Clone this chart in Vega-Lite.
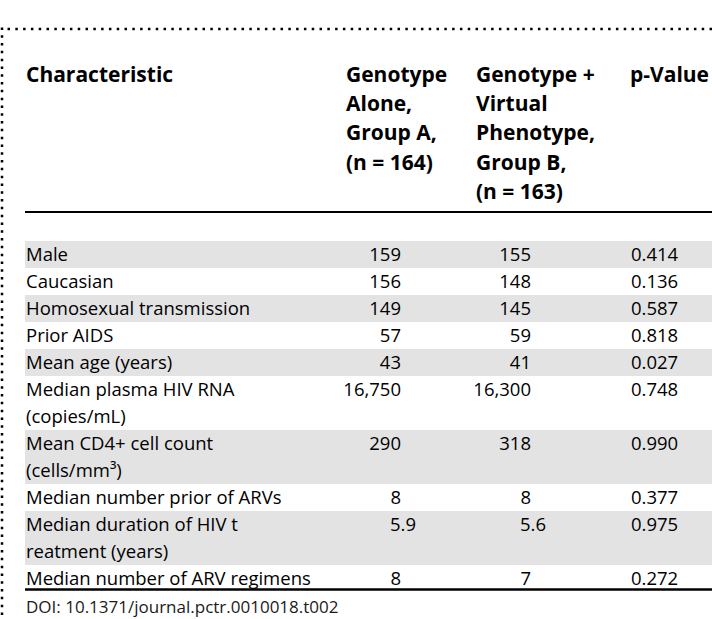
{
  "$schema": "https://vega.github.io/schema/vega-lite/v6.json",
  "width": 712,
  "height": 619,
  "autosize": {"type": "none"},
  "padding": 0,
  "background": "white",
  "config": {
    "view": {"stroke": null},
    "text": {"font": "Open Sans", "fontSize": 18.5, "color": "#000"}
  },
  "datasets": {
    "table": [
      {"Characteristic": ["Male"], "GroupA": 159, "GroupB": 155, "pValue": 0.414},
      {"Characteristic": ["Caucasian"], "GroupA": 156, "GroupB": 148, "pValue": 0.136},
      {"Characteristic": ["Homosexual transmission"], "GroupA": 149, "GroupB": 145, "pValue": 0.587},
      {"Characteristic": ["Prior AIDS"], "GroupA": 57, "GroupB": 59, "pValue": 0.818},
      {"Characteristic": ["Mean age (years)"], "GroupA": 43, "GroupB": 41, "pValue": 0.027},
      {"Characteristic": ["Median plasma HIV RNA", "(copies/mL)"], "GroupA": 16750, "GroupB": 16300, "pValue": 0.748},
      {"Characteristic": ["Mean CD4+ cell count", "(cells/mm³)"], "GroupA": 290, "GroupB": 318, "pValue": 0.990},
      {"Characteristic": ["Median number prior of ARVs"], "GroupA": 8, "GroupB": 8, "pValue": 0.377},
      {"Characteristic": ["Median duration of HIV t", "reatment (years)"], "GroupA": 5.9, "GroupB": 5.6, "pValue": 0.975},
      {"Characteristic": ["Median number of ARV regimens"], "GroupA": 8, "GroupB": 7, "pValue": 0.272}
    ]
  },
  "layer": [
    {
      "data": {"name": "table"},
      "transform": [
        {"window": [{"op": "row_number", "as": "rec"}]},
        {"flatten": ["Characteristic"]},
        {"window": [{"op": "row_number", "as": "line"}]},
        {"filter": "datum.rec % 2 == 1"}
      ],
      "mark": {"type": "rule", "color": "#e3e3e3", "strokeWidth": 27, "strokeCap": "butt"},
      "encoding": {
        "x": {"datum": 1, "type": "quantitative", "scale": {"domain": [0, 1, 1.5, 2, 2.5, 3, 4, 5], "range": [2, 25, 346, 401, 476, 531, 631, 712], "nice": false, "zero": false}, "axis": null},
        "x2": {"datum": 5},
        "y": {"field": "line", "type": "quantitative", "scale": {"domain": [-8, 15], "range": [11.5, 632.5], "nice": false, "zero": false}, "axis": null}
      }
    },
    {
      "data": {"values": [{}]},
      "mark": {"type": "rule", "color": "#000", "strokeWidth": 2.5, "strokeDash": [2.5, 5.3], "strokeCap": "butt"},
      "encoding": {
        "x": {"datum": 0.24, "type": "quantitative"},
        "x2": {"datum": 5},
        "y": {"datum": -7.352, "type": "quantitative"}
      }
    },
    {
      "data": {"values": [{}]},
      "mark": {"type": "rule", "color": "#000", "strokeWidth": 2.5, "strokeDash": [2.5, 5.3], "strokeCap": "butt"},
      "encoding": {
        "x": {"datum": 0, "type": "quantitative"},
        "y": {"datum": -7.41, "type": "quantitative"},
        "y2": {"datum": 15}
      }
    },
    {
      "data": {"values": [{}]},
      "mark": {"type": "rule", "color": "#000", "strokeWidth": 2},
      "encoding": {
        "x": {"datum": 1, "type": "quantitative"},
        "x2": {"datum": 5},
        "y": {"datum": -0.574, "type": "quantitative"}
      }
    },
    {
      "data": {"values": [{}]},
      "mark": {"type": "rule", "color": "#000", "strokeWidth": 2.5},
      "encoding": {
        "x": {"datum": 1, "type": "quantitative"},
        "x2": {"datum": 5},
        "y": {"datum": 13.407, "type": "quantitative"}
      }
    },
    {
      "data": {"values": [{}]},
      "mark": {"type": "text", "align": "left", "baseline": "alphabetic", "fontWeight": "bold", "fontSize": 21, "lineHeight": 29.2, "dx": 1},
      "encoding": {
        "x": {"datum": 1, "type": "quantitative"},
        "y": {"datum": -5.389, "type": "quantitative"},
        "text": {"value": "Characteristic"}
      }
    },
    {
      "data": {"values": [{}]},
      "mark": {"type": "text", "align": "left", "baseline": "alphabetic", "fontWeight": "bold", "fontSize": 21, "lineHeight": 29.2},
      "encoding": {
        "x": {"datum": 1.5, "type": "quantitative"},
        "y": {"datum": -5.389, "type": "quantitative"},
        "text": {"value": ["Genotype", "Alone,", "Group A,", "(n = 164)"]}
      }
    },
    {
      "data": {"values": [{}]},
      "mark": {"type": "text", "align": "left", "baseline": "alphabetic", "fontWeight": "bold", "fontSize": 21, "lineHeight": 29.2},
      "encoding": {
        "x": {"datum": 2.5, "type": "quantitative"},
        "y": {"datum": -5.389, "type": "quantitative"},
        "text": {"value": ["Genotype +", "Virtual", "Phenotype,", "Group B,", "(n = 163)"]}
      }
    },
    {
      "data": {"values": [{}]},
      "mark": {"type": "text", "align": "left", "baseline": "alphabetic", "fontWeight": "bold", "fontSize": 21, "dx": -1},
      "encoding": {
        "x": {"datum": 4, "type": "quantitative"},
        "y": {"datum": -5.389, "type": "quantitative"},
        "text": {"value": "p-Value"}
      }
    },
    {
      "data": {"name": "table"},
      "transform": [
        {"window": [{"op": "row_number", "as": "rec"}]},
        {"flatten": ["Characteristic"]},
        {"window": [{"op": "row_number", "as": "line"}]}
      ],
      "mark": {"type": "text", "align": "left", "baseline": "middle", "dx": 1},
      "encoding": {
        "x": {"datum": 1, "type": "quantitative"},
        "y": {"field": "line", "type": "quantitative"},
        "text": {"field": "Characteristic", "type": "nominal"}
      }
    },
    {
      "data": {"name": "table"},
      "transform": [
        {"window": [{"op": "row_number", "as": "rec"}]},
        {"flatten": ["Characteristic"]},
        {"window": [{"op": "row_number", "as": "line"}]},
        {"window": [{"op": "row_number", "as": "sub"}], "groupby": ["rec"]},
        {"filter": "datum.sub == 1 && datum.GroupA % 1 == 0"}
      ],
      "mark": {"type": "text", "align": "right", "baseline": "middle"},
      "encoding": {
        "x": {"datum": 2, "type": "quantitative"},
        "y": {"field": "line", "type": "quantitative"},
        "text": {"field": "GroupA", "type": "quantitative", "format": ","}
      }
    },
    {
      "data": {"name": "table"},
      "transform": [
        {"window": [{"op": "row_number", "as": "rec"}]},
        {"flatten": ["Characteristic"]},
        {"window": [{"op": "row_number", "as": "line"}]},
        {"window": [{"op": "row_number", "as": "sub"}], "groupby": ["rec"]},
        {"filter": "datum.sub == 1 && datum.GroupA % 1 != 0"}
      ],
      "mark": {"type": "text", "align": "right", "baseline": "middle", "dx": 15},
      "encoding": {
        "x": {"datum": 2, "type": "quantitative"},
        "y": {"field": "line", "type": "quantitative"},
        "text": {"field": "GroupA", "type": "quantitative", "format": ","}
      }
    },
    {
      "data": {"name": "table"},
      "transform": [
        {"window": [{"op": "row_number", "as": "rec"}]},
        {"flatten": ["Characteristic"]},
        {"window": [{"op": "row_number", "as": "line"}]},
        {"window": [{"op": "row_number", "as": "sub"}], "groupby": ["rec"]},
        {"filter": "datum.sub == 1 && datum.GroupB % 1 == 0"}
      ],
      "mark": {"type": "text", "align": "right", "baseline": "middle"},
      "encoding": {
        "x": {"datum": 3, "type": "quantitative"},
        "y": {"field": "line", "type": "quantitative"},
        "text": {"field": "GroupB", "type": "quantitative", "format": ","}
      }
    },
    {
      "data": {"name": "table"},
      "transform": [
        {"window": [{"op": "row_number", "as": "rec"}]},
        {"flatten": ["Characteristic"]},
        {"window": [{"op": "row_number", "as": "line"}]},
        {"window": [{"op": "row_number", "as": "sub"}], "groupby": ["rec"]},
        {"filter": "datum.sub == 1 && datum.GroupB % 1 != 0"}
      ],
      "mark": {"type": "text", "align": "right", "baseline": "middle", "dx": 15},
      "encoding": {
        "x": {"datum": 3, "type": "quantitative"},
        "y": {"field": "line", "type": "quantitative"},
        "text": {"field": "GroupB", "type": "quantitative", "format": ","}
      }
    },
    {
      "data": {"name": "table"},
      "transform": [
        {"window": [{"op": "row_number", "as": "rec"}]},
        {"flatten": ["Characteristic"]},
        {"window": [{"op": "row_number", "as": "line"}]},
        {"window": [{"op": "row_number", "as": "sub"}], "groupby": ["rec"]},
        {"filter": "datum.sub == 1"}
      ],
      "mark": {"type": "text", "align": "left", "baseline": "middle"},
      "encoding": {
        "x": {"datum": 4, "type": "quantitative"},
        "y": {"field": "line", "type": "quantitative"},
        "text": {"field": "pValue", "type": "quantitative", "format": ".3f"}
      }
    },
    {
      "data": {"values": [{}]},
      "mark": {"type": "text", "align": "left", "baseline": "middle", "fontSize": 17, "color": "#1a1a1a", "dx": 1},
      "encoding": {
        "x": {"datum": 1, "type": "quantitative"},
        "y": {"datum": 14.09, "type": "quantitative"},
        "text": {"value": "DOI: 10.1371/journal.pctr.0010018.t002"}
      }
    }
  ]
}
